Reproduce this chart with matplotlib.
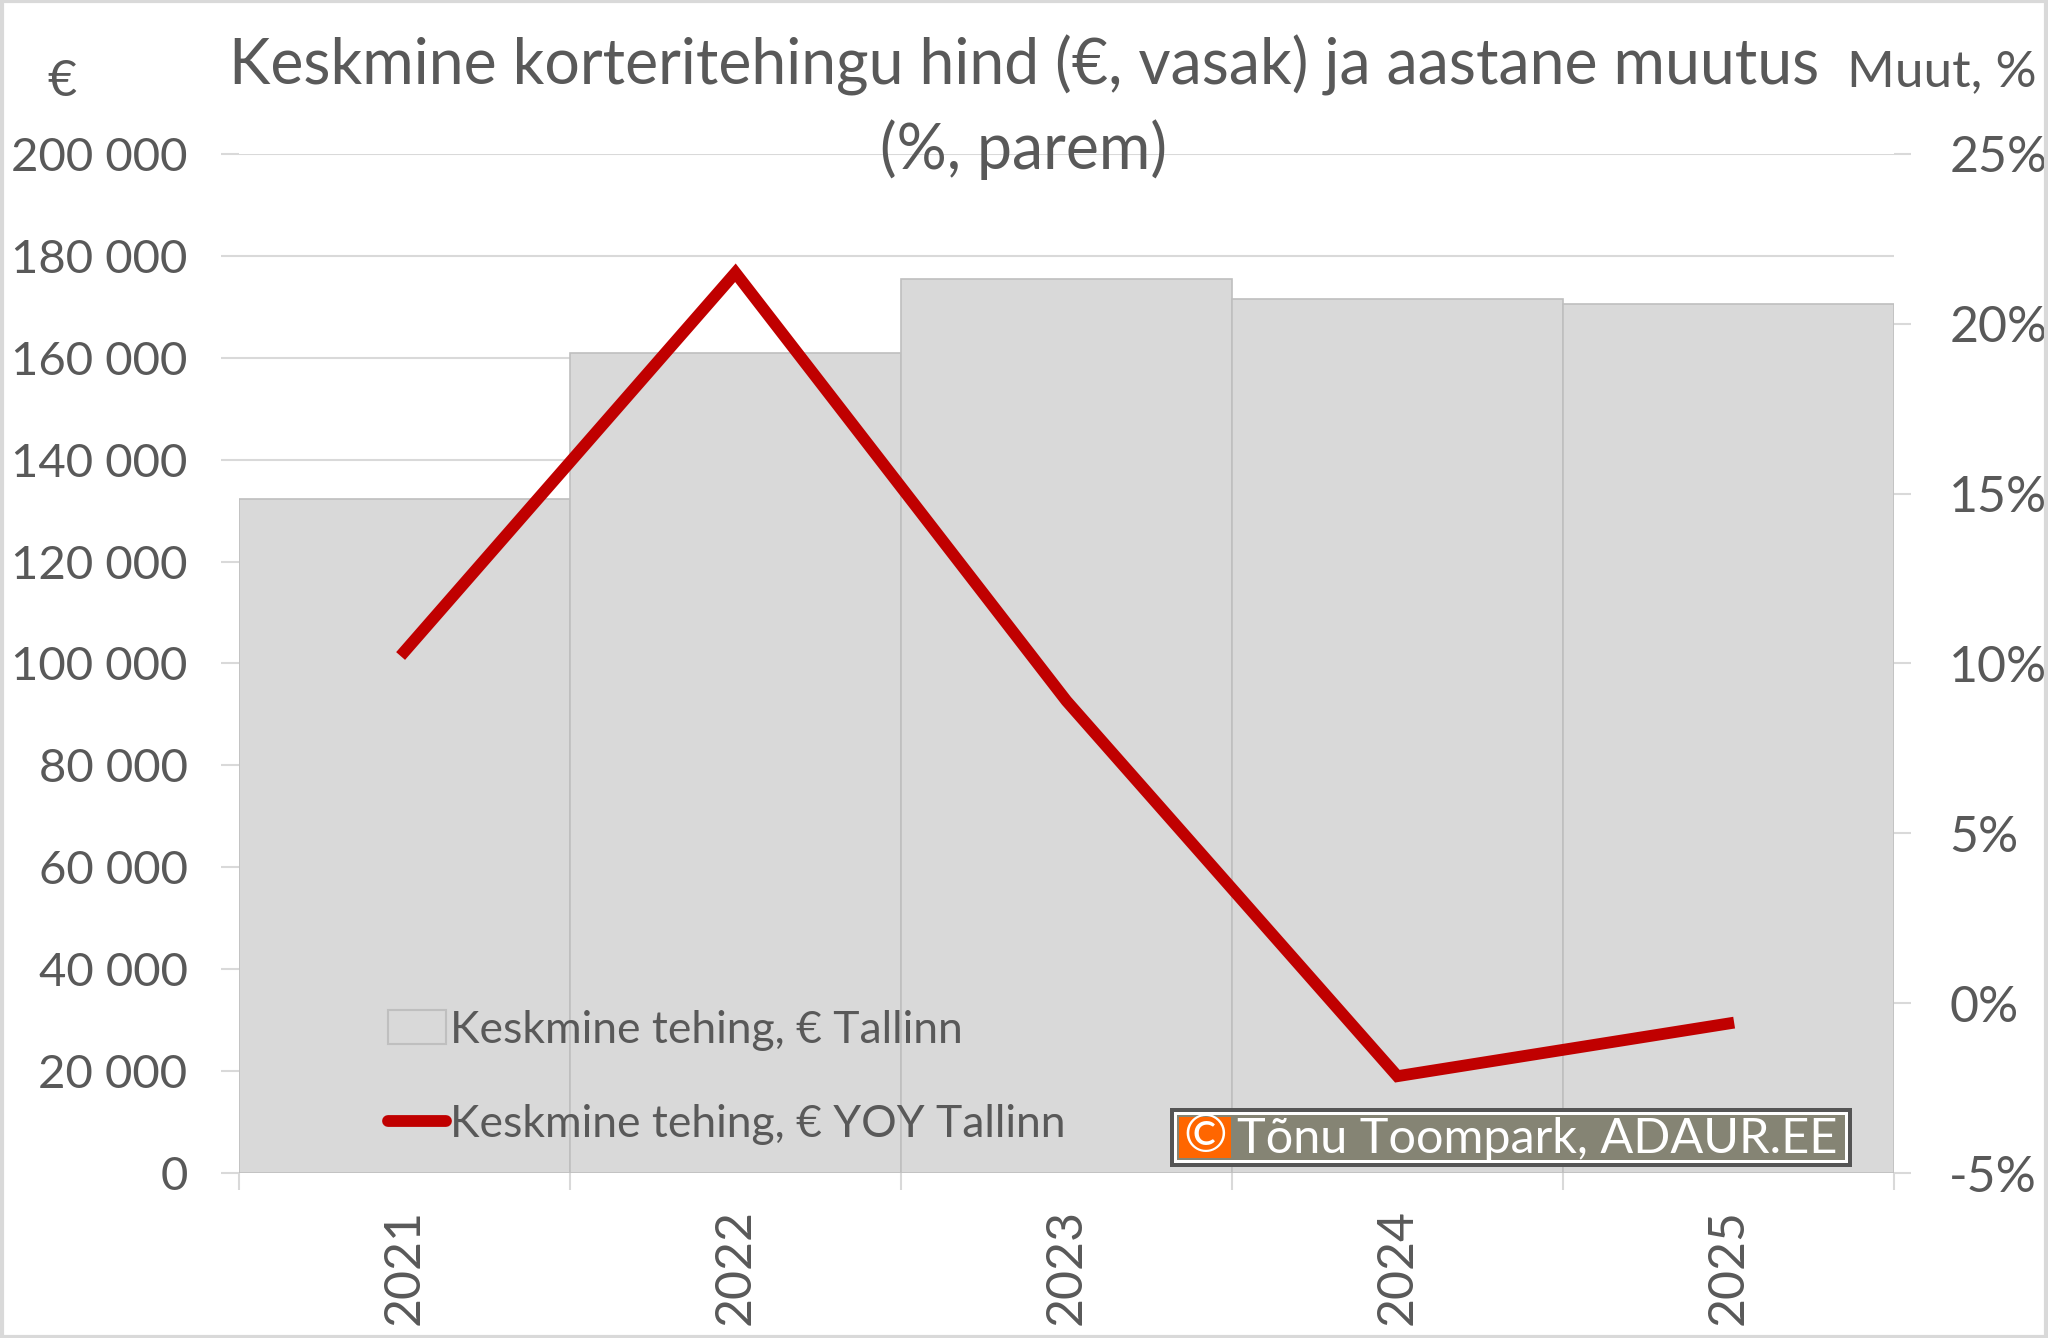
import matplotlib
matplotlib.use("Agg")
import matplotlib.pyplot as plt
from matplotlib.patches import Rectangle, Patch
from matplotlib.lines import Line2D
from matplotlib import font_manager

# andmed
years = ["2021", "2022", "2023", "2024", "2025"]
avg_price = [132300, 161000, 175400, 171500, 170500]
yoy_change = [10.35, 21.5, 8.9, -2.15, -0.6]

price_ticks = [0, 20000, 40000, 60000, 80000, 100000, 120000, 140000, 160000, 180000, 200000]
pct_ticks = [-5, 0, 5, 10, 15, 20, 25]

names = {f.name for f in font_manager.fontManager.ttflist}
fam = "Lato" if "Lato" in names else "DejaVu Sans"
plt.rcParams["font.family"] = [fam, "DejaVu Sans"]

txt = "#595959"
grid = "#d9d9d9"

fig = plt.figure(figsize=(20.48, 13.38), dpi=100)
ax = fig.add_axes([0.1167, 0.1233, 0.808, 0.7617])

x = list(range(len(years)))
ax.bar(x, avg_price, width=1.0, color="#d9d9d9", edgecolor="#bfbfbf", linewidth=1.2, zorder=2)
ax.set_xlim(-0.5, len(years) - 0.5)
ax.set_ylim(0, 200000)
ax.set_yticks(price_ticks)
ax.set_yticklabels([f"{v:,}".replace(",", " ") for v in price_ticks])
ax.yaxis.grid(True, color=grid, linewidth=1.5, zorder=0)
ax.set_axisbelow(True)
for s in ax.spines.values():
    s.set_visible(False)
ax.tick_params(axis="y", length=13, width=1.5, color=grid, pad=24, labelsize=34, labelcolor=txt)

ax.set_xticks(x)
ax.set_xticklabels(years, rotation=90)
ax.set_xticks([i - 0.5 for i in range(len(years) + 1)], minor=True)
ax.tick_params(axis="x", which="major", length=0, pad=26, labelsize=36, labelcolor=txt)
ax.tick_params(axis="x", which="minor", length=12, width=1.5, color=grid)

ax2 = ax.twinx()
ax2.plot(x, yoy_change, color="#c00000", linewidth=8.5, solid_joinstyle="miter", zorder=3)
ax2.set_ylim(-5, 25)
ax2.set_yticks(pct_ticks)
ax2.set_yticklabels([f"{v}%" for v in pct_ticks])
for s in ax2.spines.values():
    s.set_visible(False)
ax2.tick_params(axis="y", length=12, width=1.5, color=grid, pad=28, labelsize=36, labelcolor=txt)

handles = [Patch(facecolor="#d9d9d9", edgecolor="#bfbfbf", linewidth=1.5),
           Line2D([0], [0], color="#c00000", linewidth=8.5, solid_capstyle="round")]
labels = ["Keskmine tehing, € Tallinn", "Keskmine tehing, € YOY Tallinn"]
ax2.legend(handles, labels, loc="lower left", bbox_to_anchor=(0.066, -0.012), frameon=False,
           fontsize=32, labelcolor=txt, handlelength=1.3, handleheight=0.8, handletextpad=0.1,
           labelspacing=1.2)

fig.text(0.5, 0.951, "Keskmine korteritehingu hind (€, vasak) ja aastane muutus", ha="center",
         va="center", fontsize=45, color=txt)
fig.text(0.5, 0.888, "(%, parem)", ha="center", va="center", fontsize=45, color=txt)
fig.text(0.030, 0.939, "€", ha="center", va="center", fontsize=36, color=txt)
fig.text(0.948, 0.946, "Muut, %", ha="center", va="center", fontsize=37, color=txt)

# autoriõiguse märk
W, H = 2048.0, 1338.0
def box(x0, y0, x1, y1, **kw):
    fig.patches.append(Rectangle((x0 / W, 1 - y1 / H), (x1 - x0) / W, (y1 - y0) / H,
                                 transform=fig.transFigure, zorder=10, **kw))
box(1170, 1108, 1852, 1167, facecolor="#555555", edgecolor="none")
box(1174, 1112, 1848, 1163, facecolor="white", edgecolor="none")
box(1177, 1115, 1845, 1160, facecolor="#858474", edgecolor="none")
box(1179, 1117, 1231, 1158, facecolor="#ff6600", edgecolor="none")
fig.text(1205 / W, 1 - 1138 / H, "©", ha="center", va="center", fontsize=38, color="white", zorder=11)
fig.text(1237 / W, 1 - 1139 / H, "Tõnu Toompark, ADAUR.EE", ha="left", va="center", fontsize=35,
         color="white", zorder=11)

fig.patches.append(Rectangle((0.001, 0.001), 0.998, 0.998, transform=fig.transFigure, fill=False,
                             edgecolor="#d9d9d9", linewidth=3))

fig.savefig("out.png", dpi=100)
